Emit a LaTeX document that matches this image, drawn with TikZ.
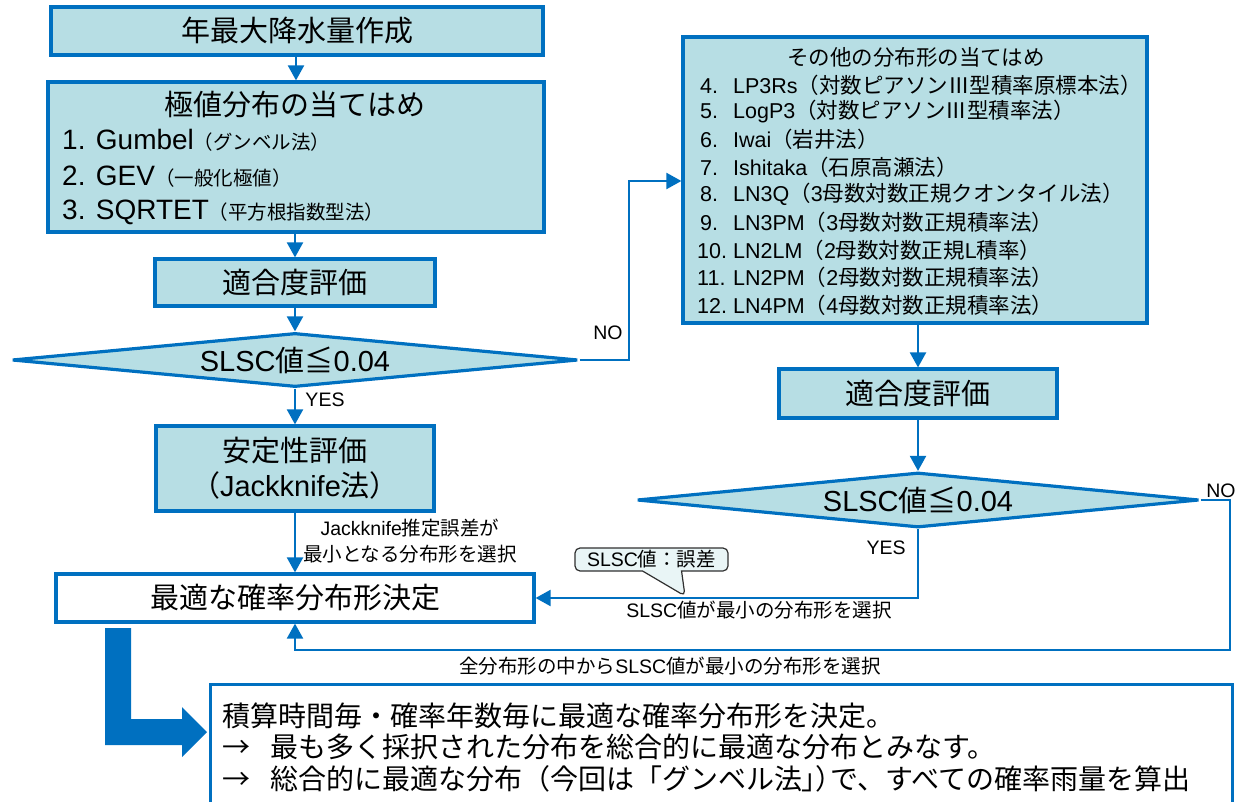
\documentclass[tikz,border=0pt]{standalone}
\usepackage{fontspec}
\usetikzlibrary{arrows.meta,shapes.geometric,shapes.callouts}
\setmainfont{Liberation Sans}
\newfontfamily\cjkfont{Noto Sans CJK JP}
\newfontfamily\cjkpfont{Noto Sans CJK JP}[RawFeature=+palt]
\let\cjk\cjkfont
\XeTeXinterchartokenstate=1
\chardef\cjkcls=10
\newcount\cjkcc
\def\setcjkrange#1#2{\cjkcc=#1\relax\loop\XeTeXcharclass\cjkcc=\cjkcls\relax\ifnum\cjkcc<#2\advance\cjkcc by 1\relax\repeat}
\setcjkrange{"3000}{"30FF}
\setcjkrange{"3400}{"9FFF}
\setcjkrange{"FF00}{"FFEF}
\setcjkrange{"2160}{"2188}
\XeTeXcharclass"2266=\cjkcls
\XeTeXcharclass"2192=\cjkcls
\XeTeXinterchartoks 0 \cjkcls = {\begingroup\cjk}
\XeTeXinterchartoks 4095 \cjkcls = {\begingroup\cjk}
\XeTeXinterchartoks \cjkcls 0 = {\endgroup}
\XeTeXinterchartoks \cjkcls 4095 = {\endgroup}
\newcommand\propjp[1]{{\let\cjk\cjkpfont #1}}
\definecolor{bblue}{HTML}{0070C0}
\definecolor{tfill}{HTML}{B7DEE4}
\definecolor{cofill}{HTML}{E9F5F6}
\definecolor{coborder}{HTML}{303030}
\newcommand\fbig{\fontsize{29}{35}\selectfont}
\newcommand\flst{\fontsize{28}{32}\selectfont}
\newcommand\fsml{\fontsize{19.5}{26}\selectfont}
\newcommand\frl{\fontsize{21.5}{26}\selectfont}
\newcommand\fbot{\fontsize{28}{32}\selectfont}
\begin{document}
\begin{tikzpicture}[x=1pt,y=-1pt,
  box/.style={draw=bblue, line width=3.2pt, fill=tfill, inner sep=0pt, align=center, font=\fbig},
  dia/.style={diamond, aspect=10.4, draw=bblue, line width=3.2pt, fill=tfill, inner sep=0pt, font=\fbig},
  arr/.style={draw=bblue, line width=2.2pt, -{Triangle[length=15pt,width=16pt]}},
  conn/.style={draw=bblue, line width=2.2pt},
  lab/.style={font=\fsml, inner sep=0pt, align=center},
  lst/.style={font=\flst, inner sep=0pt, anchor=west},
  rl/.style={font=\frl, inner sep=0pt, anchor=west},
  bot/.style={font=\fbot, inner sep=0pt, anchor=west}]
\clip (0,0) rectangle (1238,802);
% left column
\node[box, minimum width=492, minimum height=48] (b1) at (297,31) {年最大降水量作成};
\node[box, minimum width=496, minimum height=150] (b2) at (296,157) {};
\node[font=\fbig, inner sep=0pt] (b2t) at (295,105) {極値分布の当てはめ};
\node[lst] (g1) at (62,140) {1. Gumbel{\fsml（グンベル法）}};
\node[lst] (g2) at (62,177) {2. GEV{\fsml（一般化極値）}};
\node[lst] (g3) at (62,212) {3. SQRTET{\fsml（平方根指数型法）}};
\node[box, minimum width=280, minimum height=47] (b3) at (295,282.5) {適合度評価};
\node[dia, minimum width=566, minimum height=54] (dL) at (295,360) {SLSC値≦0.04};
\node[box, minimum width=278, minimum height=85] (b4) at (295,468.5) {安定性評価\\（Jackknife法）};
\node[box, fill=white, minimum width=478, minimum height=48] (b5) at (295,598) {最適な確率分布形決定};
% right column
\node[box, minimum width=464, minimum height=286] (r1) at (915,180) {};
\node[font=\frl, inner sep=0pt] (r1t) at (916,57) {その他の分布形の当てはめ};
\node[rl] (m4) at (700,85) {\makebox[33pt][l]{4.}LP3Rs（対数ピアソンⅢ型積率原標本法）};
\node[rl] (m5) at (700,112) {\makebox[33pt][l]{5.}LogP3（対数ピアソンⅢ型積率法）};
\node[rl] (m6) at (700,139) {\makebox[33pt][l]{6.}Iwai（岩井法）};
\node[rl] (m7) at (700,167) {\makebox[33pt][l]{7.}Ishitaka（石原高瀬法）};
\node[rl] (m8) at (700,194) {\makebox[33pt][l]{8.}LN3Q（3母数対数正規クオンタイル法）};
\node[rl] (m9) at (700,222) {\makebox[33pt][l]{9.}LN3PM（3母数対数正規積率法）};
\node[rl] (m10) at (697,250) {\makebox[36pt][l]{10.}LN2LM（2母数対数正規L積率）};
\node[rl] (m11) at (697,277) {\makebox[36pt][l]{11.}LN2PM（2母数対数正規積率法）};
\node[rl] (m12) at (697,305) {\makebox[36pt][l]{12.}LN4PM（4母数対数正規積率法）};
\node[box, minimum width=278, minimum height=49] (r2) at (918,393.5) {適合度評価};
\node[dia, minimum width=562, minimum height=55] (dR) at (918,500) {SLSC値≦0.04};
% connectors
\draw[arr] (b2.north |- b1.south) -- (b2.north);
\draw[arr] (b3.north |- b2.south) -- (b3.north);
\draw[arr] (b3.south) -- (dL.north);
\draw[arr] (dL.south) -- (b4.north);
\draw[arr] (b4.south) -- (b5.north);
\coordinate (n1) at (629,181);
\draw[arr] (dL.east) -| (n1) -- (r1.west |- n1);
\draw[arr] (r2.north |- r1.south) -- (r2.north);
\draw[arr] (r2.south) -- (dR.north);
\draw[arr] (dR.south) |- (b5.east);
\coordinate (c1) at (1230,650);
\draw[arr] (dR.east) -| (c1) -| (b5.south);
% labels
\node[lab] (yes1) at (325,400) {YES};
\node[lab] (jk) at (410,541) {Jackknife推定誤差が\\最小となる分布形を選択};
\node[lab] (no1) at (608,333) {NO};
\node[lab] (no2) at (1221,491) {NO};
\node[lab] (yes2) at (886,548) {YES};
\node[lab] (sel1) at (759,610) {SLSC値が最小の分布形を選択};
\node[lab] (sel2) at (670,666) {全分布形の中からSLSC値が最小の分布形を選択};
\node[rectangle callout, draw=coborder, fill=cofill, line width=1.2pt, rounded corners=5pt,
  callout absolute pointer={(685,596)}, callout pointer width=39pt,
  minimum width=153, minimum height=23, inner sep=0pt, font=\fsml] (co) at (651.5,559.5) {SLSC値：誤差};
% big arrow
\fill[bblue] (105,628) -- (131,628) -- (131,719) -- (182,719) -- (182,707) -- (207,732)
  -- (182,757) -- (182,745) -- (105,745) -- cycle;
% bottom box
\node[draw=bblue, line width=3pt, fill=white, minimum width=1022, minimum height=140, inner sep=0pt] (bb) at (721,754) {};
\node[bot] (t1) at (222,716) {積算時間毎・確率年数毎に最適な確率分布形を決定。};
\node[bot] (t2) at (222,747) {→\hspace{20pt}最も多く採択された分布を総合的に最適な分布とみなす。};
\node[bot] (t3) at (222,779) {→\hspace{20pt}総合的に最適な分布（今回は「グンベル法\propjp{」）}で、すべての確率雨量を算出};
\end{tikzpicture}
\end{document}
